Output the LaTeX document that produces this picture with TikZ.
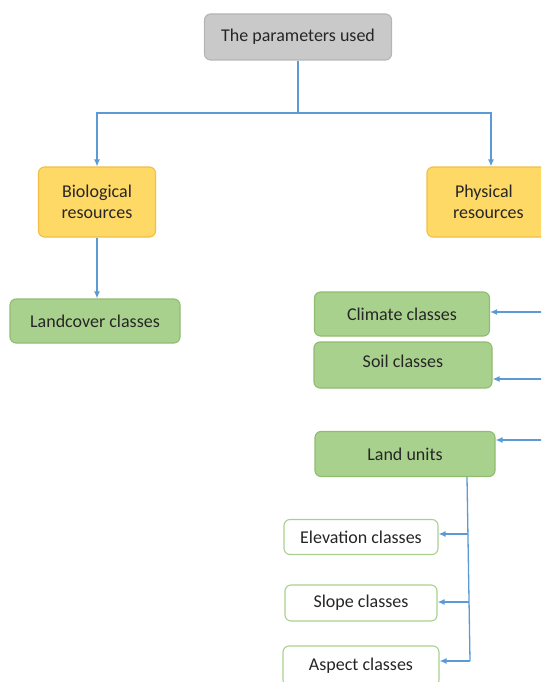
\documentclass[tikz,border=0pt]{standalone}
\usepackage{fontspec}
\setmainfont{Carlito}
\usetikzlibrary{arrows.meta}
\definecolor{grayfill}{HTML}{C9C9C9}
\definecolor{grayline}{HTML}{B5B5B5}
\definecolor{orfill}{HTML}{FFD966}
\definecolor{orline}{HTML}{F2BE45}
\definecolor{grfill}{HTML}{A9D18E}
\definecolor{grline}{HTML}{8FBC6F}
\definecolor{conncol}{HTML}{5B9BD5}
\definecolor{txt}{HTML}{262626}
\begin{document}
\begin{tikzpicture}[x=1pt,y=-1pt,
  box/.style={rounded corners=6pt, draw, line width=1.1pt, inner sep=0pt, align=center,
    font=\fontsize{18}{21}\selectfont, text=txt},
  graybox/.style={box, fill=grayfill, draw=grayline},
  orbox/.style={box, fill=orfill, draw=orline},
  grbox/.style={box, fill=grfill, draw=grline},
  whbox/.style={box, fill=white, draw=grfill},
  lbl/.style={inner sep=0pt, font=\fontsize{18}{21}\selectfont, text=txt},
  conn/.style={draw=conncol, line width=1.3pt},
  arr/.style={conn, -{Latex[length=7pt,width=6pt]}}]
\useasboundingbox (0,0) rectangle (541,682);
\clip (0,0) rectangle (541,682);
% nodes
\node[graybox, minimum width=187pt, minimum height=46pt] (top) at (298,37) {The parameters used};
\node[orbox, minimum width=117pt, minimum height=70pt] (bio) at (97,202) {Biological\\resources};
\node[orbox, minimum width=128pt, minimum height=70pt, text width=128pt, align=left] (phys) at (491,202) {\hspace*{28pt}Physical\\\hspace*{26pt}resources};
\node[grbox, minimum width=170pt, minimum height=44pt] (land) at (95,321) {Landcover classes};
\node[grbox, minimum width=175pt, minimum height=44pt] (clim) at (402,314) {Climate classes};
\node[grbox, minimum width=178pt, minimum height=46pt] (soil) at (403,365) {};
\node[lbl] (soiltxt) at (403,361) {Soil classes};
\node[grbox, minimum width=180pt, minimum height=45pt] (lu) at (405,454) {Land units};
\node[whbox, minimum width=154pt, minimum height=35pt] (elev) at (361,537) {Elevation classes};
\node[whbox, minimum width=152pt, minimum height=36pt] (slope) at (361,603) {Slope classes};
\node[whbox, minimum width=156pt, minimum height=40pt] (asp) at (361,666) {Aspect classes};
% junctions
\coordinate (j) at (298,113);
\coordinate (rc) at (548,312);
\coordinate (rs) at (548,379);
\coordinate (rl) at (548,440);
\coordinate (vt) at (467,477);
\coordinate (v1) at (468,534);
\coordinate (v2) at (469,602);
\coordinate (v3) at (470,661);
% connectors
\draw[conn] (top.south) -- (j);
\draw[arr] (j) -| (bio.north);
\draw[arr] (j) -| (phys.north -| 491,0);
\draw[arr] (bio.south) -- (bio.south |- land.north);
\draw[arr] (rc) -- (clim.east |- rc);
\draw[arr] (rs) -- (soil.east |- rs);
\draw[arr] (rl) -- (lu.east |- rl);
\draw[conn] (vt) -- (v3);
\draw[arr] (v1) -- (elev.east |- v1);
\draw[arr] (v2) -- (slope.east |- v2);
\draw[arr] (v3) -- (asp.east |- v3);
\end{tikzpicture}
\end{document}
